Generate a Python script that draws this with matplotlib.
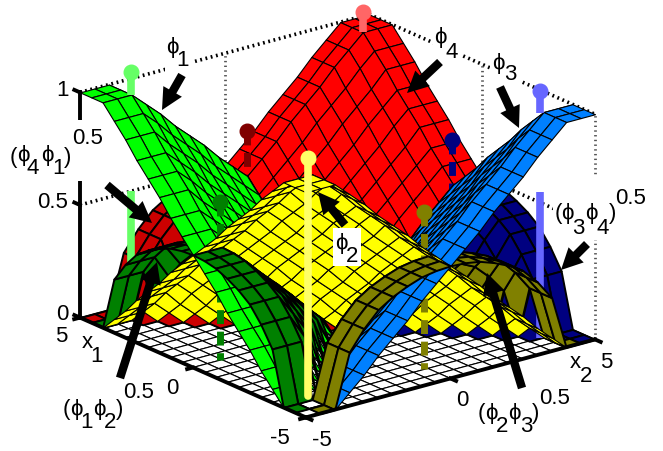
import bisect

import matplotlib
matplotlib.use("Agg")
import matplotlib.pyplot as plt
import numpy as np
from matplotlib.patches import Rectangle
from matplotlib.path import Path
from mpl_toolkits.mplot3d import proj3d
from mpl_toolkits.mplot3d.art3d import Poly3DCollection

plt.rcParams['font.family'] = ['Liberation Sans', 'DejaVu Sans']

# grid of the surfaces and the value it saturates to near the corners
grid = [-5, -4.5, -4, -3.5, -3, -2.5, -2, -1.5, -1, -0.5, 0, 0.5, 1, 1.5, 2, 2.5, 3, 3.5, 4, 4.5, 5]
clipped = [-4, -4, -4, -3.5, -3, -2.5, -2, -1.5, -1, -0.5, 0, 0.5, 1, 1.5, 2, 2.5, 3, 3.5, 4, 4, 4]
# height of a basis function against distance (half units) from its zero line
ramp = [0, 0.06, 0.12, 0.19, 0.25, 0.31, 0.38, 0.44, 0.5, 0.56, 0.62, 0.69, 0.75, 0.81, 0.88, 0.94, 1.0]

z_ticks = [0, 0.5, 1]
z_tick_labels = ["0", "0.5", "1"]

# centres of the rules: x1, x2, marker height
bright_poles = {"phi1": (4, -4, 1.1), "phi4": (4, 4, 1.09), "phi3": (-4, 3.87, 1.1), "phi2": (-4, -4.15, 1.08)}
dark_poles = {"p41": (4, 0, 0.7), "p34": (0, 3.95, 0.7), "p12": (0, -4.05, 0.7), "p23": (-4, -0.12, 0.7)}
lower_pole_top = {"phi1": 0.57, "phi3": 0.65}

bright_colors = {"phi1": "#00ff00", "phi2": "#ffff00", "phi3": "#0080ff", "phi4": "#ff0000"}
dark_colors = {"p12": "#008000", "p23": "#808000", "p34": "#000080", "p41": "#cc0000"}
pole_colors = {"phi1": "#66ff66", "phi2": "#ffff66", "phi3": "#6666ff", "phi4": "#ff6666",
               "p12": "#008000", "p23": "#808000", "p34": "#000080", "p41": "#800000"}

ELEV, AZIM = 20.2, -128
SCALE_XY, SCALE_Z = 36.7, 240.0

W, H = 663, 451
fig = plt.figure(figsize=(W / 100, H / 100), dpi=100)
ax = fig.add_axes([0.1, 0.0, 450 / W, 450 / H], projection="3d", proj_type="ortho", computed_zorder=False)
ax.set_box_aspect((1, 1, SCALE_Z / SCALE_XY / 10))
ax.view_init(elev=ELEV, azim=AZIM)
ax.set_axis_off()
ax.patch.set_alpha(0)

el, az = np.radians(ELEV), np.radians(AZIM)
to_cam = np.array([np.cos(el) * np.cos(az), np.cos(el) * np.sin(az), np.sin(el)])
right = np.array([-np.sin(az), np.cos(az), 0])
up = np.cross(to_cam, right)


def view(points):
    # screen x, screen y and nearness of (x2, x1, z) points, all in pixels
    p = np.asarray(points, dtype=float) * np.array([SCALE_XY, SCALE_XY, SCALE_Z])
    return np.c_[p @ right, p @ up, p @ to_cam]


def samples(q):
    # points spread over a quad, in view coordinates
    t = np.linspace(0.1, 0.9, 5)
    a, b = np.meshgrid(t, t)
    a, b = a.ravel()[:, None], b.ravel()[:, None]
    return (1 - a) * (1 - b) * q[0] + a * (1 - b) * q[1] + a * b * q[2] + (1 - a) * b * q[3]


def in_front(qa, qb):
    # votes for a being nearer than b, where they overlap on screen
    votes = 0
    for q1, q2, sign in [(qa, qb, 1), (qb, qa, -1)]:
        pts = samples(q1)
        inside = Path(q2[:, :2]).contains_points(pts[:, :2])
        if not inside.any():
            continue
        A = np.c_[q2[:, :2], np.ones(4)]
        coef = np.linalg.lstsq(A, q2[:, 2], rcond=None)[0]
        other = pts[inside, 0] * coef[0] + pts[inside, 1] * coef[1] + coef[2]
        votes += sign * np.sum(np.sign(pts[inside, 2] - other))
    return votes


n = len(grid)
X1, X2 = np.meshgrid(grid, grid, indexing="ij")
U, V = np.meshgrid(clipped, clipped, indexing="ij")


def lookup(d):
    k = np.clip(np.round(d * 2).astype(int), 0, len(ramp) - 1)
    return np.array(ramp)[k]


phi = {"phi1": lookup(U - V), "phi2": lookup(-U - V), "phi3": lookup(V - U), "phi4": lookup(U + V)}
dark = {"p12": np.sqrt(phi["phi1"] * phi["phi2"]), "p23": np.sqrt(phi["phi2"] * phi["phi3"]),
        "p34": np.sqrt(phi["phi3"] * phi["phi4"]), "p41": np.sqrt(phi["phi4"] * phi["phi1"])}


def cell_surfaces(i, j):
    a = X1[i:i + 2, j:j + 2]
    b = X2[i:i + 2, j:j + 2]
    dif = a - b
    tot = a + b
    out = []
    if dif.min() >= 0:
        out.append(("phi1", phi["phi1"], 0.8))
    if dif.max() <= 0:
        out.append(("phi3", phi["phi3"], 0.8))
    if tot.max() <= 0:
        out.append(("phi2", phi["phi2"], 0.8))
    if tot.max() > 0:
        out.append(("phi4", phi["phi4"], 0.8))
    if dif.min() >= 0 and tot.max() <= 0:
        out.append(("p12", dark["p12"], 1.4))
    if dif.max() <= 0 and tot.max() <= 0:
        out.append(("p23", dark["p23"], 1.4))
    if dif.max() <= 0 and tot.max() > 0:
        out.append(("p34", dark["p34"], 1.4))
    if dif.min() >= 0 and tot.max() > 0:
        out.append(("p41", dark["p41"], 1.4))
    return out


def ground_near(x1, x2):
    return view([(x2, x1, 0)])[0, 2]


all_colors = {**bright_colors, **dark_colors}
cells = sorted(((i, j) for i in range(n - 1) for j in range(n - 1)),
               key=lambda c: ground_near(grid[c[0]] + 0.25, grid[c[1]] + 0.25))
cell_near = [ground_near(grid[i] + 0.25, grid[j] + 0.25) for i, j in cells]


def order(x1, x2):
    # draw position of a spot on the floor among the cells, back to front
    return 20 + bisect.bisect_left(cell_near, ground_near(x1, x2))


floor_polys = []
for rank, (i, j) in enumerate(cells):
    idx = [(i, j), (i + 1, j), (i + 1, j + 1), (i, j + 1)]
    floor_polys.append([(grid[q], grid[p], 0) for p, q in idx])
    faces = []
    for name, z, lw in cell_surfaces(i, j):
        poly = [(grid[q], grid[p], z[p, q]) for p, q in idx]
        faces.append((poly, view(poly), all_colors[name], lw))
    # nearest face of the column goes last
    wins = [sum(in_front(f[1], g[1]) for g in faces if g is not f) for f in faces]
    for k, pos in enumerate(np.argsort(wins)):
        poly, _, color, lw = faces[pos]
        coll = Poly3DCollection([poly], facecolors=color, edgecolors="black", linewidths=lw)
        coll.set_zorder(20 + rank + k * 0.1)
        ax.add_collection3d(coll)

floor = Poly3DCollection(floor_polys, facecolors="white", edgecolors="black", linewidths=0.8)
floor.set_zorder(5)
ax.add_collection3d(floor)


def line3(x1, x2, z, **kw):
    ax.plot(x2, x1, z, **kw)


# dotted walls behind everything
dots = dict(color="black", lw=2.6, linestyle=(0, (0.5, 1.0)), dash_capstyle="butt", zorder=1)
gray = dict(color="#555555", lw=2.0, linestyle=(0, (0.5, 1.2)), dash_capstyle="butt", zorder=1)
for level in [0.5, 1]:
    line3([5, 5], [-5, 5], [level, level], **dots)
    line3([5, -5], [5, 5], [level, level], **dots)
line3([5, 5], [0, 0], [0, 1], **gray)
line3([0, 0], [5, 5], [0, 1], **gray)
line3([-5, -5], [5, 5], [0, 1], **gray)

# poles
for name, (x1, x2, top) in bright_poles.items():
    col = pole_colors[name]
    if name == "phi2":
        line3([x1, x1], [x2, x2], [0.02, top], color=col, lw=5.5, zorder=5000, solid_capstyle="round")
    else:
        line3([x1, x1], [x2, x2], [1.0, top], color=col, lw=5.5, zorder=5000, solid_capstyle="butt")
        if name in lower_pole_top:
            line3([x1, x1], [x2, x2], [0, lower_pole_top[name]], color=col, lw=5.5,
                  zorder=order(x1, x2), solid_capstyle="butt")
    line3([x1], [x2], [top], marker="o", ms=10.5, color=col, mec=col, zorder=5001)

for name, (x1, x2, top) in dark_poles.items():
    col = pole_colors[name]
    line3([x1, x1], [x2, x2], [top, 0], color=col, lw=5, linestyle=(0, (2.0, 1.1)),
          dash_capstyle="butt", zorder=order(x1, x2))
    line3([x1], [x2], [top], marker="o", ms=10.5, color=col, mec=col, zorder=order(x1, x2))

# axes
thick = dict(color="black", lw=2.8, solid_capstyle="projecting", zorder=4000)
line3([5, -5], [-5, -5], [0, 0], **thick)
line3([-5, -5], [-5, 5], [0, 0], **thick)
line3([5, 5], [-5, -5], [0, 1], **thick)
for t in z_ticks:
    line3([5, 5.25], [-5, -5], [t, t], **thick)
for t in [-5, 0, 5]:
    line3([t, t], [-5, -5.2], [0, 0], **thick)
    line3([-5, -5.25], [t, t], [0, 0], **thick)

ax.set_xlim(-5, 5)
ax.set_ylim(-5, 5)
ax.set_zlim(0, 1)

# place the axes so that the floor corners land where they are in the reference
fig.canvas.draw()
M = ax.get_proj()


def to_px(x1, x2, z):
    px, py, _ = proj3d.proj_transform(x2, x1, z, M)
    return ax.transData.transform((px, py))


target_l = np.array([80.0, H - 317.0])
target_r = np.array([595.0, H - 340.0])
dl, dr = to_px(5, -5, 0), to_px(-5, 5, 0)
f = np.linalg.norm(target_r - target_l) / np.linalg.norm(dr - dl)
bbox = ax.get_window_extent()
c = np.array([(bbox.x0 + bbox.x1) / 2, (bbox.y0 + bbox.y1) / 2])
size = bbox.width * f
c_new = (target_l + target_r) / 2 - ((dl + dr) / 2 - c) * f
ax.set_position([(c_new[0] - size / 2) / W, (c_new[1] - size / 2) / H, size / W, size / H])

# flat layer in pixels for labels and arrows
ov = fig.add_axes([0, 0, 1, 1], zorder=10)
ov.set_xlim(0, W)
ov.set_ylim(H, 0)
ov.axis("off")
ov.patch.set_alpha(0)

for x0, y0, x1, y1 in [(8, 120, 105, 181), (165, 40, 194, 72), (433, 28, 462, 65), (490, 52, 522, 86),
                       (553, 177, 648, 240), (333, 228, 361, 266)]:
    ov.add_patch(Rectangle((x0, y0), x1 - x0, y1 - y0, facecolor="white", edgecolor="none", zorder=1))

FS = 16
PHI = "\u03d5"
texts = [
    (172, 48, PHI), (183, 61, "1"), (440, 38, PHI), (452, 52, "4"), (498, 63, PHI), (510, 74, "3"),
    (341, 243, PHI), (352, 256, "2"),
    (13, 157, "("), (23, 155, PHI), (33, 168, "4"), (47, 155, PHI), (58, 168, "1"), (68, 157, ")"), (88, 139, "0.5"),
    (66, 409, "("), (76, 409, PHI), (86, 422, "1"), (99, 409, PHI), (110, 423, "2"), (120, 409, ")"), (139, 393, "0.5"),
    (481, 413, "("), (491, 413, PHI), (502, 427, "2"), (514, 413, PHI), (526, 427, "3"), (536, 413, ")"), (555, 398, "0.5"),
    (558, 213, "("), (567, 213, PHI), (578, 228, "3"), (591, 213, PHI), (603, 228, "4"), (613, 213, ")"), (631, 199, "0.5"),
    (62, 314, z_tick_labels[0]), (53, 202, z_tick_labels[1]), (62, 91, z_tick_labels[2]),
    (61, 336, "5"), (87, 343, "x"), (97, 356, "1"), (172, 388, "0"), (280, 438, "-5"),
    (322, 440, "-5"), (462, 400, "0"), (575, 363, "x"), (586, 376, "2"), (606, 362, "5"),
]
for x, y, s in texts:
    ov.text(x, y, s, fontsize=FS, ha="center", va="center", color="black", zorder=3)

arrows = [
    ((182, 75), (162, 110)), ((440, 62), (407, 93)), ((500, 87), (519, 128)),
    ((107, 185), (152, 223)), ((120, 378), (157, 262)), ((345, 225), (318, 192)),
    ((587, 244), (561, 270)), ((522, 388), (487, 273)),
]
for tail, tip in arrows:
    ov.annotate("", xy=tip, xytext=tail, zorder=2,
                arrowprops=dict(arrowstyle="simple,head_length=1.4,head_width=1.4,tail_width=0.55",
                                mutation_scale=11, color="black", lw=0, shrinkA=0, shrinkB=0))

fig.savefig("out.png", dpi=100)
